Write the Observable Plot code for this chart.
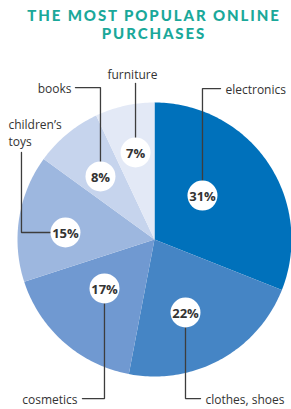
<!DOCTYPE html>
<html><head><meta charset="utf-8">
<script src="https://cdn.jsdelivr.net/npm/d3@7"></script>
<script src="https://cdn.jsdelivr.net/npm/@observablehq/plot@0.6"></script>
<style>
body{margin:0;background:#fff;width:291px;height:409px;overflow:hidden;}
#title{height:48px;box-sizing:border-box;padding-top:6px;padding-left:17px;text-align:center;
 font-family:Lato,sans-serif;font-weight:900;font-size:15px;line-height:18px;letter-spacing:1.9px;color:#1aa89a;}
#chart svg{display:block;}
</style></head><body>
<div id="title">THE MOST POPULAR ONLINE<br>PURCHASES</div>
<div id="chart"></div>
<script>
// data
const categories = ["electronics", "clothes, shoes", "cosmetics", "children’s toys", "books", "furniture"];
const labelTexts = ["electronics", "clothes, shoes", "cosmetics", "children’s\ntoys", "books", "furniture"];
const values = [31, 22, 17, 15, 8, 7];
const percentLabels = ["31%", "22%", "17%", "15%", "8%", "7%"];

// styling / layout (not data)
const colors = ["#0071bb", "#4585c5", "#7099d1", "#9db7df", "#c6d4ed", "#e3e9f6"];
const badgeAngle = [47.5, 157, 225.6, 274.5, 319.4, 347.7];   // degrees clockwise from 12 o'clock
const badgeRadius = [0.475, 0.579, 0.511, 0.652, 0.606, 0.65]; // fraction of pie radius
// leader endpoints in pie-radius units
const leaders = [
  {kind: "vh", ly: 1.102, lx: 0.482, tx: 0.518, ty: 1.102, anchor: "start"},
  {kind: "vh", ly: -1.161, lx: 0.336, tx: 0.372, ty: -1.161, anchor: "start"},
  {kind: "vh", ly: -1.161, lx: -0.526, tx: -0.562, ty: -1.161, anchor: "end"},
  {kind: "hv", ly: 0.635, lx: -0.971, tx: -1.066, ty: 0.785, anchor: "start"},
  {kind: "vh", ly: 1.109, lx: -0.577, tx: -0.606, ty: 1.109, anchor: "end"},
  {kind: "v", ly: 1.139, lx: null, tx: -0.161, ty: 1.212, anchor: "middle"}
];

const arcs = d3.pie().sort(null).startAngle(0).endAngle(2 * Math.PI)(values);
const slicePts = [];
arcs.forEach((a, i) => {
  slicePts.push({name: categories[i], x: 0, y: 0});
  const steps = Math.max(2, Math.ceil((a.endAngle - a.startAngle) / (Math.PI / 180)));
  for (let k = 0; k <= steps; k++) {
    const t = a.startAngle + (a.endAngle - a.startAngle) * k / steps;
    slicePts.push({name: categories[i], x: Math.sin(t), y: Math.cos(t)});
  }
  slicePts.push({name: categories[i], x: 0, y: 0});
});

const badges = categories.map((c, i) => {
  const t = badgeAngle[i] * Math.PI / 180;
  return {name: c, x: badgeRadius[i] * Math.sin(t), y: badgeRadius[i] * Math.cos(t), label: percentLabels[i]};
});

const leaderPts = [];
const textRows = [];
badges.forEach((b, i) => {
  const L = leaders[i];
  leaderPts.push({name: b.name, x: b.x, y: b.y});
  if (L.kind === "vh") {
    leaderPts.push({name: b.name, x: b.x, y: L.ly});
    leaderPts.push({name: b.name, x: L.lx, y: L.ly});
  } else if (L.kind === "hv") {
    leaderPts.push({name: b.name, x: L.lx, y: b.y});
    leaderPts.push({name: b.name, x: L.lx, y: L.ly});
  } else {
    leaderPts.push({name: b.name, x: b.x, y: L.ly});
  }
  textRows.push({x: L.tx, y: L.ty, text: labelTexts[i], anchor: L.anchor});
});

const W = 291, H = 361, cx = 154, cy = 191, R = 137;
const labelStyle = {fontSize: 12, fill: "#333", lineHeight: 1.42};
const plot = Plot.plot({
  width: W, height: H,
  margin: 0,
  x: {domain: [-1, 1], range: [cx - R, cx + R], axis: null},
  y: {domain: [-1, 1], range: [cy + R, cy - R], axis: null},
  color: {domain: categories, range: colors},
  style: {fontFamily: "'Open Sans', sans-serif", background: "#fff"},
  marks: [
    Plot.line(slicePts, {x: "x", y: "y", z: "name", fill: "name", stroke: "none", curve: "linear-closed"}),
    Plot.line(leaderPts, {x: "x", y: "y", z: "name", stroke: "#3d3d3d", strokeWidth: 1.3, strokeLinejoin: "miter"}),
    Plot.dot(badges, {x: "x", y: "y", r: 15, fill: "#fff", stroke: "none"}),
    Plot.text(badges, {x: "x", y: "y", text: "label", fontSize: 13, fontWeight: 700, fill: "#333", dy: 1}),
    Plot.text(textRows.filter(d => d.anchor === "start"), {x: "x", y: "y", text: "text", textAnchor: "start", ...labelStyle}),
    Plot.text(textRows.filter(d => d.anchor === "end"), {x: "x", y: "y", text: "text", textAnchor: "end", ...labelStyle}),
    Plot.text(textRows.filter(d => d.anchor === "middle"), {x: "x", y: "y", text: "text", textAnchor: "middle", ...labelStyle})
  ]
});
document.getElementById("chart").appendChild(plot);
</script>
</body></html>
